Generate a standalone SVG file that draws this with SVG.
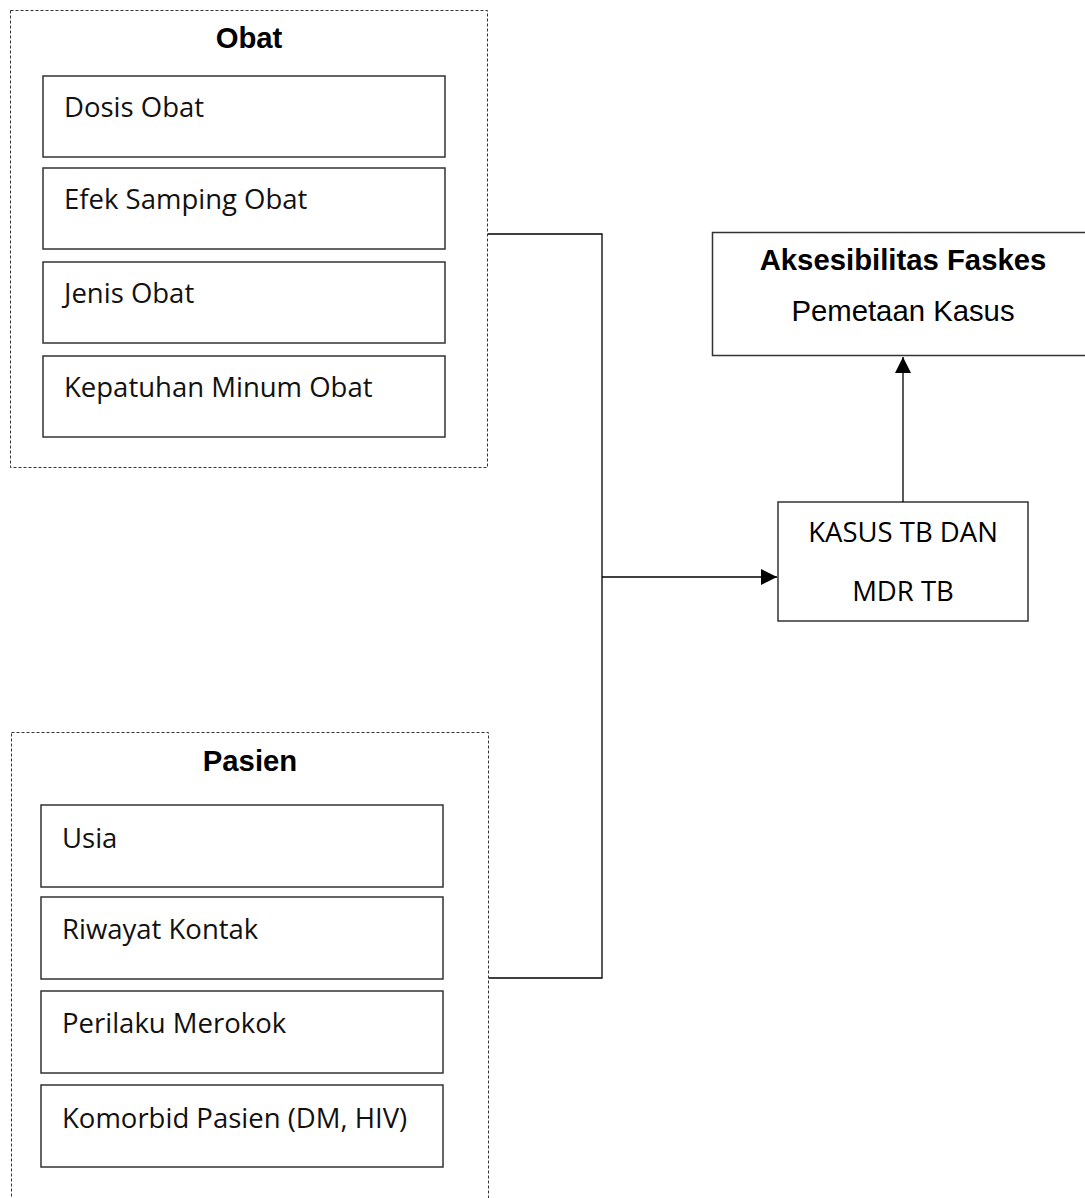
<svg xmlns="http://www.w3.org/2000/svg" width="1085" height="1198" viewBox="0 0 1085 1198">
<style>
.grp{fill:#fff;stroke:#333;stroke-width:1;stroke-dasharray:3,2}
.box{fill:#fff;stroke:#333;stroke-width:1.5}
.item{font-family:"Open Sans","Noto Sans",sans-serif;font-size:27.5px;fill:#111}
.title{font-family:"Liberation Sans",Arial,sans-serif;font-size:29.3px;font-weight:bold;fill:#000;text-anchor:middle}
.plain{font-family:"Liberation Sans",Arial,sans-serif;font-size:29.3px;fill:#000;text-anchor:middle}
.kas{font-family:"Open Sans","Noto Sans",sans-serif;font-size:27.5px;fill:#000;text-anchor:middle}
.con{fill:none;stroke:#000;stroke-width:1.3}
</style>
<defs>
<marker id="arr" viewBox="0 0 10 10" refX="10" refY="5" markerWidth="16" markerHeight="16" markerUnits="userSpaceOnUse" orient="auto">
<path d="M0,0 L10,5 L0,10 Z" fill="#000"/>
</marker>
</defs>
<g id="obat">
<rect class="grp" x="10.5" y="10.5" width="477" height="457"/>
<text class="title" x="249" y="48">Obat</text>
<rect class="box" x="43" y="76" width="402" height="81"/>
<text class="item" x="64" y="117">Dosis Obat</text>
<rect class="box" x="43" y="168" width="402" height="81"/>
<text class="item" x="64" y="209">Efek Samping Obat</text>
<rect class="box" x="43" y="262" width="402" height="81"/>
<text class="item" x="64" y="303">Jenis Obat</text>
<rect class="box" x="43" y="356" width="402" height="81"/>
<text class="item" x="64" y="397">Kepatuhan Minum Obat</text>
</g>
<g id="pasien">
<rect class="grp" x="11.5" y="732.5" width="477" height="480"/>
<text class="title" x="250" y="771">Pasien</text>
<rect class="box" x="41" y="805" width="402" height="82"/>
<text class="item" x="62" y="848">Usia</text>
<rect class="box" x="41" y="897" width="402" height="82"/>
<text class="item" x="62" y="939">Riwayat Kontak</text>
<rect class="box" x="41" y="991" width="402" height="82"/>
<text class="item" x="62" y="1033">Perilaku Merokok</text>
<rect class="box" x="41" y="1085" width="402" height="82"/>
<text class="item" x="62" y="1128">Komorbid Pasien (DM, HIV)</text>
</g>
<g id="aksesibilitas">
<rect class="box" x="712.5" y="232.5" width="380" height="123"/>
<text class="title" x="903" y="270">Aksesibilitas Faskes</text>
<text class="plain" x="903" y="321">Pemetaan Kasus</text>
</g>
<g id="kasus">
<rect class="box" x="778" y="502" width="250" height="119"/>
<text class="kas" x="903" y="542">KASUS TB DAN</text>
<text class="kas" x="903" y="601">MDR TB</text>
</g>
<g id="connectors">
<polyline class="con" points="488,234 602,234 602,978 489,978"/>
<line class="con" x1="602" y1="577" x2="777" y2="577" marker-end="url(#arr)"/>
<line class="con" x1="903" y1="502" x2="903" y2="357" marker-end="url(#arr)"/>
</g>
</svg>
